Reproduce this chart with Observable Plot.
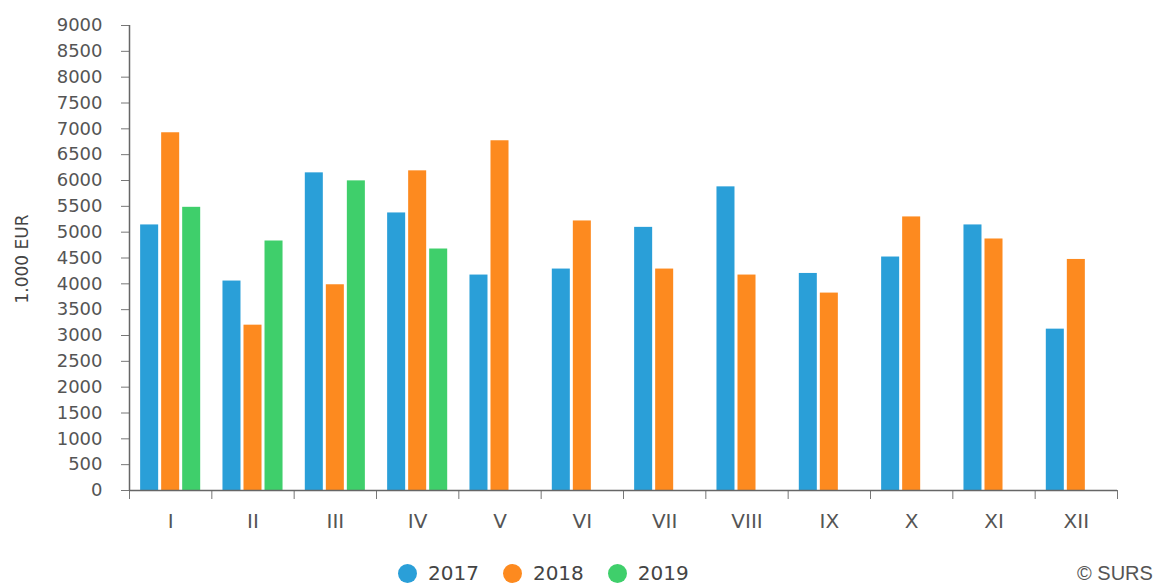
<!DOCTYPE html>
<html>
<head>
<meta charset="utf-8">
<script src="https://cdn.jsdelivr.net/npm/d3@7"></script>
<script src="https://cdn.jsdelivr.net/npm/@observablehq/plot@0.6"></script>
<style>
  body { margin: 0; background: #fff; font-family: "DejaVu Sans", sans-serif; }
  #wrap { position: relative; width: 1161px; height: 585px; overflow: hidden; }
  #legend { position: absolute; left: 398px; top: 562px; display: flex; align-items: center; font-size: 20px; color: #444; line-height: 22px; }
  #legend .item { display: flex; align-items: center; margin-right: 24px; }
  #legend .dot { width: 19px; height: 19px; border-radius: 50%; margin-right: 11px; }
  #credit { position: absolute; left: 1077px; top: 563px; font-size: 20px; line-height: 20px; color: #555; font-family: "Liberation Sans", sans-serif; }
</style>
</head>
<body>
<div id="wrap">
  <div id="chart"></div>
  <div id="legend"></div>
  <div id="credit">© SURS</div>
</div>
<script>
const months = ["I", "II", "III", "IV", "V", "VI", "VII", "VIII", "IX", "X", "XI", "XII"];
const years = ["2017", "2018", "2019"];
const v2017 = [5140, 4054, 6148, 5372, 4170, 4286, 5093, 5877, 4201, 4519, 5140, 3123];
const v2018 = [6924, 3200, 3982, 6187, 6769, 5217, 4286, 4170, 3821, 5295, 4868, 4472];
const v2019 = [5481, 4829, 5993, 4674];
const colors = ["#2a9fd8", "#fd8a1f", "#3fcf6b"];
const yTicks = d3.range(0, 9001, 500);
const yLabel = "1.000 EUR";

const series = [v2017, v2018, v2019];
const step = 21 / 82.25;   // slot step within a month group (in month units)
const barW = 18 / 82.25;   // bar width (in month units)
const rows = [];
months.forEach((m, i) => {
  years.forEach((y, k) => {
    const v = series[k][i];
    if (v == null) return;
    const c = i + 0.5 + (k - 1) * step;
    rows.push({month: m, year: y, value: v, x1: c - barW / 2, x2: c + barW / 2});
  });
});

const chart = Plot.plot({
  width: 1161,
  height: 545,
  marginTop: 25,
  marginLeft: 129,
  marginRight: 44,
  marginBottom: 55,
  style: {fontFamily: "DejaVu Sans, sans-serif", color: "#555", background: "#fff"},
  x: {domain: [0, 12], axis: null},
  y: {domain: [0, 9000], axis: null},
  color: {domain: years, range: colors},
  marks: [
    Plot.rectY(rows, {x1: "x1", x2: "x2", y: "value", fill: "year"}),
    Plot.axisY({ticks: yTicks, tickSize: 8, tickPadding: 19, tickFormat: d3.format("d"), fontSize: 18, label: null, stroke: "#777", fill: "#555"}),
    Plot.axisX({ticks: d3.range(0.5, 12, 1), tickSize: 0, tickPadding: 23, tickFormat: d => months[Math.floor(d)], fontSize: 20, label: null, fill: "#555"}),
    Plot.axisX({ticks: d3.range(0, 13, 1), tickSize: 9, tickFormat: () => "", label: null, stroke: "#777"}),
    Plot.ruleY([0], {stroke: "#666", strokeWidth: 1.5}),
    Plot.ruleX([0], {stroke: "#666", strokeWidth: 1.5}),
    Plot.text([yLabel], {frameAnchor: "left", textAnchor: "middle", rotate: -90, dx: -107, dy: 1, fontSize: 17, fill: "#444"})
  ]
});
document.getElementById("chart").appendChild(chart);

const legend = document.getElementById("legend");
years.forEach((y, k) => {
  const item = document.createElement("div");
  item.className = "item";
  const dot = document.createElement("span");
  dot.className = "dot";
  dot.style.background = colors[k];
  const t = document.createElement("span");
  t.textContent = y;
  item.appendChild(dot);
  item.appendChild(t);
  legend.appendChild(item);
});
</script>
</body>
</html>
